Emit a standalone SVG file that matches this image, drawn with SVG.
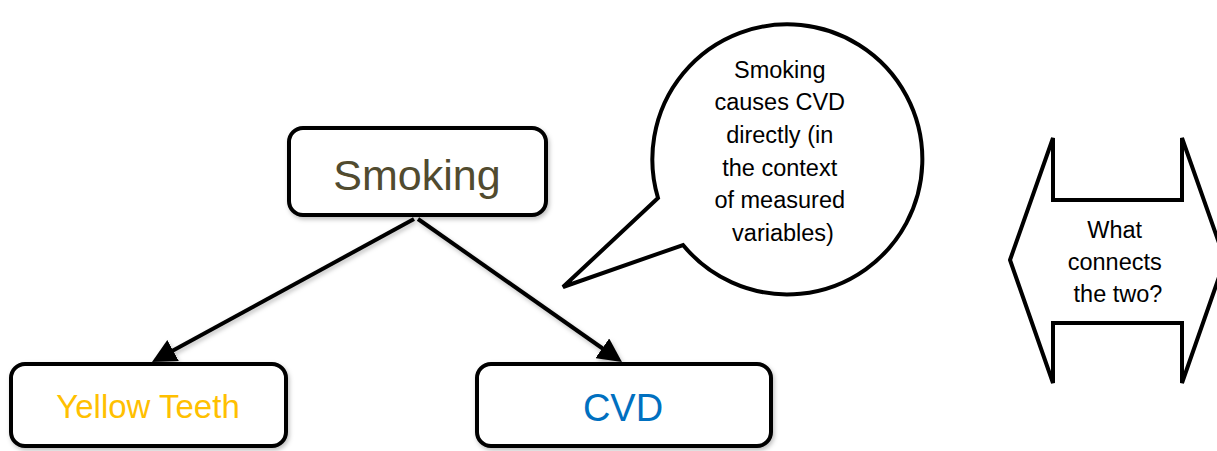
<svg xmlns="http://www.w3.org/2000/svg" width="1217" height="451" viewBox="0 0 1217 451">
<style>
.box{fill:#fff;stroke:#000;stroke-width:4}
.edge{stroke:#000;stroke-width:4;fill:none}
.shape{fill:#fff;stroke:#000;stroke-width:4;stroke-linejoin:miter}
.t{font-family:"Liberation Sans",Arial,sans-serif;text-anchor:middle}
.small{font-size:23.5px;fill:#000}
</style>
<defs>
<filter id="sh" x="-10%" y="-10%" width="130%" height="140%">
<feDropShadow dx="1.5" dy="2.5" stdDeviation="2" flood-color="#000" flood-opacity="0.25"/>
</filter>
<marker id="arr" markerUnits="userSpaceOnUse" markerWidth="24" markerHeight="24" viewBox="0 0 24 24" refX="10" refY="12" orient="auto">
<path d="M0,0 L24,12 L0,24 z" fill="#000"/>
</marker>
</defs>
<rect width="1217" height="451" fill="#fff"/>
<g id="connectors" filter="url(#sh)">
<line class="edge" x1="414" y1="219" x2="164.3" y2="355.3" marker-end="url(#arr)"/>
<line class="edge" x1="418" y1="219" x2="610.5" y2="354" marker-end="url(#arr)"/>
</g>
<g id="smoking">
<rect class="box" x="289" y="128" width="257" height="87" rx="14" filter="url(#sh)"/>
<text class="t" x="417" y="190" font-size="43" fill="#514B2F">Smoking</text>
</g>
<g id="yellow-teeth">
<rect class="box" x="11" y="364" width="275" height="82" rx="14" filter="url(#sh)"/>
<text class="t" x="148" y="418" font-size="33" fill="#FFC000">Yellow Teeth</text>
</g>
<g id="cvd">
<rect class="box" x="477" y="364" width="294" height="82" rx="14" filter="url(#sh)"/>
<text class="t" x="623" y="421" font-size="38" fill="#0070C0">CVD</text>
</g>
<g id="callout">
<path class="shape" d="M658,198 L563,287 L683,245 A135,135 0 1 0 658,198 Z"/>
<text class="t small">
<tspan x="783" y="78">Smoking</tspan>
<tspan x="783" y="110">causes CVD</tspan>
<tspan x="783" y="143">directly (in</tspan>
<tspan x="783" y="176">the context</tspan>
<tspan x="783" y="208">of measured</tspan>
<tspan x="783" y="241">variables)</tspan>
</text>
</g>
<g id="double-arrow">
<path class="shape" d="M1010,260 L1053,138 L1053,200 L1182,200 L1182,138 L1225,260 L1182,383 L1182,323 L1053,323 L1053,383 Z"/>
<text class="t small">
<tspan x="1118" y="238">What</tspan>
<tspan x="1118" y="270">connects</tspan>
<tspan x="1118" y="302">the two?</tspan>
</text>
</g>
</svg>
